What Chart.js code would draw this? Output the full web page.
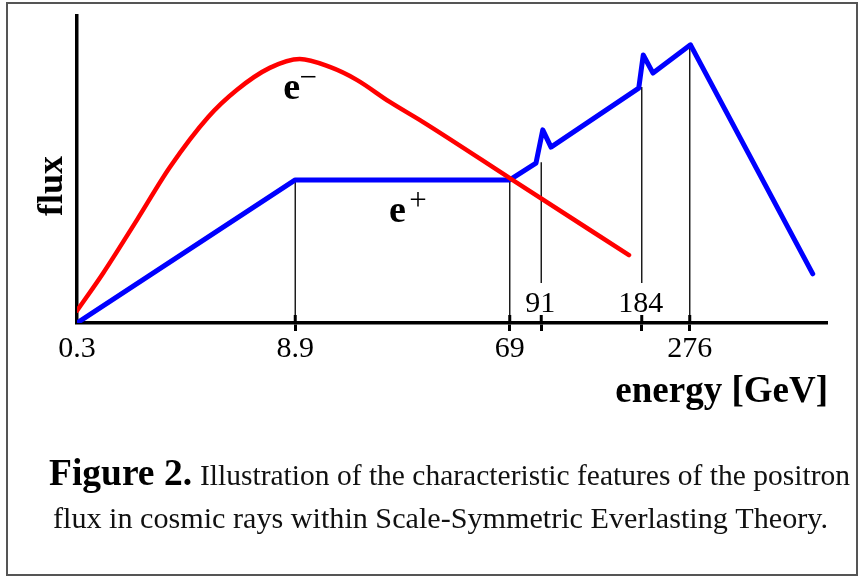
<!DOCTYPE html>
<html>
<head>
<meta charset="utf-8">
<title>Positron flux</title>
<script src="https://cdn.jsdelivr.net/npm/chart.js@4.4.1/dist/chart.umd.min.js"></script>
<style>
  html, body { margin: 0; padding: 0; background: #fff; }
</style>
</head>
<body>
<canvas id="chart" width="861" height="579"></canvas>
<script>
// schematic units: energy axis 0..100 (not to scale), flux 0..100
const tickPos = [0, 29.1, 57.7, 61.9, 75.3, 81.7];
const tickLabels = ['0.3', '8.9', '69', '91', '184', '276'];
const raisedLabels = ['91', '184'];   // these sit above the axis

const electronX = [0, 3.5, 8.0, 12.4, 17.5, 21.3, 25.7, 29.7, 33.7, 37.3, 41.7, 46.1, 58.0, 73.6];
const electronY = [4.0, 16.3, 33.6, 50.8, 67.1, 75.9, 83.1, 86.0, 83.4, 79.2, 72.0, 65.5, 46.7, 22.1];

const positronX = [0, 29.1, 57.7, 61.2, 62.1, 63.2, 74.9, 75.5, 76.8, 81.8, 98.1];
const positronY = [0, 46.6, 46.6, 52.1, 62.9, 57.3, 76.5, 87.3, 81.4, 90.6, 16.0];

// vertical drop lines at the marked energies (8.9, 69, 91, 184, 276)
const dropX = tickPos.slice(1);
const dropTop = [46.6, 46.6, 52.4, 76.9, 90.6];
const dropBottom = [0, 0, 13.0, 13.0, 0];

const toPoints = (xs, ys) => xs.map((x, i) => ({ x: x, y: ys[i] }));

const datasets = [
  {
    label: 'e-',
    data: toPoints(electronX, electronY),
    borderColor: '#ff0000',
    borderWidth: 4.5,
    pointRadius: 0,
    cubicInterpolationMode: 'monotone',
    borderJoinStyle: 'round',
    borderCapStyle: 'round',
    order: 0
  },
  {
    label: 'e+',
    data: toPoints(positronX, positronY),
    borderColor: '#0000ff',
    borderWidth: 5,
    pointRadius: 0,
    tension: 0,
    borderJoinStyle: 'round',
    borderCapStyle: 'round',
    order: 1
  }
];
dropX.forEach((x, i) => {
  datasets.push({
    label: 'drop ' + tickLabels[i + 1],
    data: [{ x: x, y: dropBottom[i] }, { x: x, y: dropTop[i] }],
    borderColor: '#111',
    borderWidth: 1.4,
    pointRadius: 0,
    order: 2
  });
});

const serif = '"Liberation Serif", "Times New Roman", serif';

function fitText(ctx, text, x, y, width) {
  const w = ctx.measureText(text).width;
  ctx.save();
  ctx.translate(x, y);
  ctx.scale(width / w, 1);
  ctx.fillText(text, 0, 0);
  ctx.restore();
}

const annotations = {
  id: 'annotations',
  beforeDraw(chart) {
    const ctx = chart.ctx;
    ctx.save();
    ctx.fillStyle = '#fff';
    ctx.fillRect(0, 0, chart.width, chart.height);
    ctx.strokeStyle = '#555';
    ctx.lineWidth = 2;
    ctx.strokeRect(7, 3, 850, 572);
    ctx.restore();
  },
  afterDraw(chart) {
    const ctx = chart.ctx;
    const xs = chart.scales.x, ys = chart.scales.y;
    const axisY = ys.getPixelForValue(0);
    ctx.save();
    ctx.fillStyle = '#000';

    // upper half of the tick marks
    ctx.strokeStyle = '#000';
    ctx.lineWidth = 3;
    dropX.forEach(v => {
      const px = xs.getPixelForValue(v);
      ctx.beginPath();
      ctx.moveTo(px, axisY - 8);
      ctx.lineTo(px, axisY);
      ctx.stroke();
    });

    // labels standing above the axis
    ctx.font = '30px ' + serif;
    ctx.textAlign = 'center';
    ctx.textBaseline = 'alphabetic';
    tickLabels.forEach((t, i) => {
      if (raisedLabels.includes(t)) {
        ctx.fillText(t, xs.getPixelForValue(tickPos[i]) - 1, axisY - 11);
      }
    });

    // axis titles
    ctx.font = 'bold 37px ' + serif;
    ctx.textAlign = 'right';
    ctx.fillText('energy [GeV]', 828, 402);

    ctx.save();
    ctx.translate(62, 186);
    ctx.rotate(-Math.PI / 2);
    ctx.textAlign = 'center';
    ctx.font = 'bold 36px ' + serif;
    ctx.fillText('flux', 0, 0);
    ctx.restore();

    // curve labels
    const eMinus = { x: xs.getPixelForValue(27.5), y: ys.getPixelForValue(73.0) };
    const ePlus = { x: xs.getPixelForValue(41.6), y: ys.getPixelForValue(32.9) };
    ctx.textAlign = 'left';
    ctx.font = 'bold 38px ' + serif;
    ctx.fillText('e', eMinus.x, eMinus.y);
    ctx.fillText('e', ePlus.x, ePlus.y);
    ctx.textAlign = 'center';
    ctx.font = '31px ' + serif;
    ctx.fillText('\u2212', eMinus.x + 25, eMinus.y - 12);
    ctx.fillText('+', ePlus.x + 29, ePlus.y - 12);

    // caption
    ctx.textAlign = 'left';
    ctx.font = 'bold 37px ' + serif;
    fitText(ctx, 'Figure 2.', 49, 485, 143);
    ctx.fillStyle = '#111';
    ctx.font = '29px ' + serif;
    fitText(ctx, 'Illustration of the characteristic features of the positron', 200, 485, 650);
    fitText(ctx, 'flux in cosmic rays within Scale-Symmetric Everlasting Theory.', 53, 528, 775);
    ctx.restore();
  }
};

new Chart(document.getElementById('chart'), {
  type: 'line',
  data: { datasets: datasets },
  options: {
    responsive: false,
    animation: false,
    devicePixelRatio: 1,
    layout: { padding: { left: 77, top: 16, right: 34, bottom: 0 } },
    plugins: { legend: { display: false }, tooltip: { enabled: false } },
    scales: {
      x: {
        type: 'linear',
        min: 0,
        max: 100,
        afterBuildTicks: s => { s.ticks = tickPos.map(v => ({ value: v })); },
        afterFit: s => { s.height = 579 - 323; },
        grid: {
          drawOnChartArea: false,
          drawTicks: true,
          tickLength: 8,
          tickWidth: 3,
          tickColor: c => (c.tick && c.tick.value === 0) ? 'rgba(0,0,0,0)' : '#000'
        },
        border: { display: true, color: '#000', width: 3.5 },
        ticks: {
          autoSkip: false,
          maxRotation: 0,
          padding: 0,
          color: '#000',
          font: { family: serif, size: 30 },
          callback: (v, i) => raisedLabels.includes(tickLabels[i]) ? '' : tickLabels[i]
        }
      },
      y: {
        type: 'linear',
        min: 0,
        max: 100,
        afterFit: s => { s.width = 0; },
        grid: { display: false },
        border: { display: true, color: '#000', width: 3.5 },
        ticks: { display: false }
      }
    }
  },
  plugins: [annotations]
});
</script>
</body>
</html>
